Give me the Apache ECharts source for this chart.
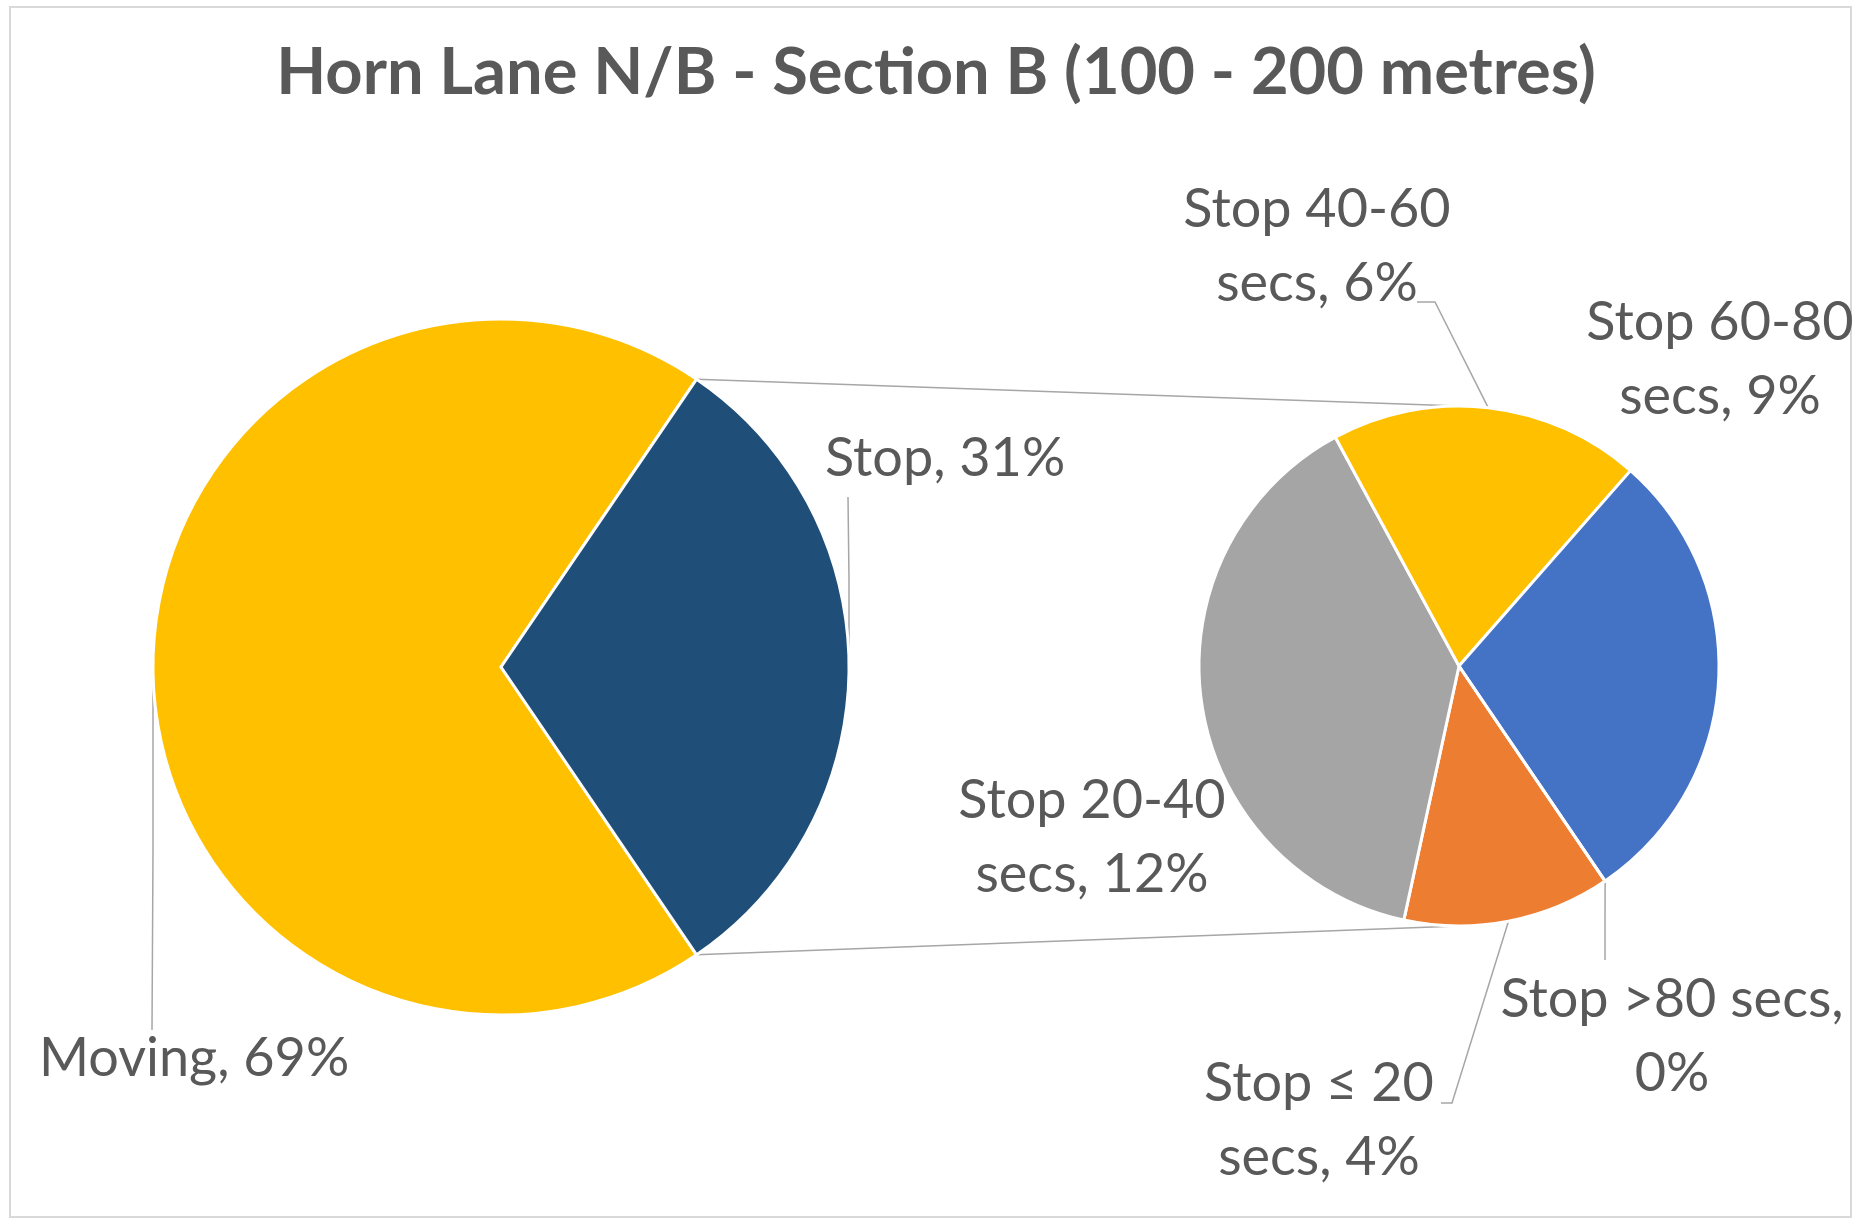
<!DOCTYPE html>
<html><head><meta charset="utf-8">
<script src="https://cdn.jsdelivr.net/npm/echarts@6/dist/echarts.min.js"></script>
<style>html,body{margin:0;padding:0;background:#fff}#chart{width:1855px;height:1220px}</style>
</head><body><div id="chart"></div>
<script>
// ---- data ----
const titleText = 'Horn Lane N/B - Section B (100 - 200 metres)';
const mainCategories = ['Moving', 'Stop'];
const mainValues = [69, 31];
const subCategories = ['Stop ≤ 20 secs', 'Stop 20-40 secs', 'Stop 40-60 secs', 'Stop 60-80 secs', 'Stop >80 secs'];
const subValues = [4, 12, 6, 9, 0];

// ---- style ----
const mainColors = ['#FFC000', '#1F4E79'];
const subColors = ['#ED7D31', '#A5A5A5', '#FFC000', '#4472C4', '#255E91'];
const FONT = 'Lato, "Open Sans", sans-serif';
const TEXT = '#595959';
const LINE = '#A6A6A6';
const LABEL_SIZE = 54;
const LABEL_LH = 74;
const MAIN = {cx: 501, cy: 667, r: 348};
const SUB = {cx: 1459, cy: 666, r: 260};
const mainLabelPos = [
  {x: 39, y: 1059, align: 'left', line: [[153, 850], [152, 1030]]},
  {x: 825, y: 459, align: 'left', line: [[849, 580], [848, 497]]}
];
const subLabelPos = [
  {x: 1319, y: 1121, align: 'center', line: [[1452, 1103], [1441, 1103]]},
  {x: 1092, y: 838, align: 'center', line: null},
  {x: 1317, y: 247, align: 'center', line: [[1435, 302], [1417, 302]]},
  {x: 1720, y: 360, align: 'center', line: null},
  {x: 1672, y: 1037, align: 'center', line: [[1605, 920], [1605, 960]]}
];
const subValueOnNewLine = [false, false, false, false, true];

// ---- derived geometry ----
const stopShare = mainValues[1] / (mainValues[0] + mainValues[1]);
const halfStopDeg = stopShare * 180;
const startDeg = 360 - halfStopDeg;
const halfRad = halfStopDeg * Math.PI / 180;

function edgePoint(geo, values, idx) {
  const total = values.reduce((a, b) => a + b, 0);
  let acc = 0;
  for (let i = 0; i < idx; i++) acc += values[i];
  const midDeg = startDeg - (acc + values[idx] / 2) / total * 360;
  const a = midDeg * Math.PI / 180;
  return [geo.cx + geo.r * Math.cos(a), geo.cy - geo.r * Math.sin(a)];
}

function makeLayout(pos, geo, values) {
  return function (params) {
    const p = pos[params.dataIndex];
    const out = {x: p.x, y: p.y, align: p.align, verticalAlign: 'middle'};
    if (p.line) {
      const first = (params.labelLinePoints && params.labelLinePoints[0]) || edgePoint(geo, values, params.dataIndex);
      out.labelLinePoints = [first].concat(p.line);
    }
    return out;
  };
}

const labelBase = {
  show: true, position: 'outside', color: TEXT, fontFamily: FONT,
  fontSize: LABEL_SIZE, lineHeight: LABEL_LH
};
const labelLineBase = {show: true, length: 20, length2: 10, lineStyle: {color: LINE, width: 1.5}};

const chart = echarts.init(document.getElementById('chart'), null, {renderer: 'canvas'});
chart.setOption({
  animation: false,
  backgroundColor: '#fff',
  graphic: [
    {type: 'rect', z: -10, shape: {x: 10, y: 7, width: 1841, height: 1210},
     style: {fill: 'none', stroke: '#D9D9D9', lineWidth: 2}},
    {type: 'text', z: 10, x: 936, y: 73,
     style: {text: titleText, align: 'center', verticalAlign: 'middle',
             font: 'bold 65px ' + FONT, fill: TEXT}},
    {type: 'line', z: -5, shape: {
      x1: MAIN.cx + MAIN.r * Math.cos(halfRad), y1: MAIN.cy - MAIN.r * Math.sin(halfRad),
      x2: SUB.cx, y2: SUB.cy - SUB.r}, style: {stroke: LINE, lineWidth: 1.5}},
    {type: 'line', z: -5, shape: {
      x1: MAIN.cx + MAIN.r * Math.cos(halfRad), y1: MAIN.cy + MAIN.r * Math.sin(halfRad),
      x2: SUB.cx, y2: SUB.cy + SUB.r}, style: {stroke: LINE, lineWidth: 1.5}}
  ],
  series: [
    {
      type: 'pie', center: [MAIN.cx, MAIN.cy], radius: MAIN.r,
      startAngle: startDeg, clockwise: true, avoidLabelOverlap: false,
      emphasis: {disabled: true},
      itemStyle: {borderColor: '#fff', borderWidth: 3},
      label: Object.assign({}, labelBase, {formatter: '{b}, {c}%'}),
      labelLine: labelLineBase,
      labelLayout: makeLayout(mainLabelPos, MAIN, mainValues),
      data: mainCategories.map((n, i) => ({
        name: n, value: mainValues[i], itemStyle: {color: mainColors[i]},
        labelLine: {show: !!mainLabelPos[i].line}
      }))
    },
    {
      type: 'pie', center: [SUB.cx, SUB.cy], radius: SUB.r,
      startAngle: startDeg, clockwise: true, avoidLabelOverlap: false,
      emphasis: {disabled: true},
      itemStyle: {borderColor: '#fff', borderWidth: 3},
      label: Object.assign({}, labelBase, {
        formatter: function (p) {
          if (subValueOnNewLine[p.dataIndex]) return p.name + ',\n' + p.value + '%';
          return p.name.replace(' secs', '\nsecs') + ', ' + p.value + '%';
        }
      }),
      labelLine: labelLineBase,
      labelLayout: makeLayout(subLabelPos, SUB, subValues),
      data: subCategories.map((n, i) => ({
        name: n, value: subValues[i], itemStyle: {color: subColors[i]},
        labelLine: {show: !!subLabelPos[i].line}
      }))
    }
  ]
});
</script>
</body></html>
